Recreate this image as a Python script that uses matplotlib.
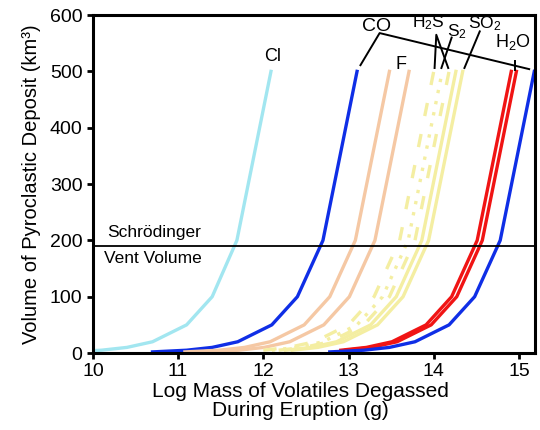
import matplotlib
matplotlib.use("Agg")
import matplotlib.pyplot as plt

plt.rcParams['font.family'] = ['Liberation Sans', 'DejaVu Sans']
plt.rcParams['mathtext.fontset'] = 'custom'
plt.rcParams['mathtext.rm'] = 'Liberation Sans'
plt.rcParams['mathtext.default'] = 'rm'

# volume levels (km^3) at which each curve is sampled
vol_from2 = [2, 5, 10, 20, 50, 100, 200, 500]
vol_from5 = [5, 10, 20, 50, 100, 200, 500]

# log mass of volatiles (g)
cl_x = [9.70, 10.10, 10.40, 10.70, 11.10, 11.40, 11.69, 12.09]
co_a_x = [10.70, 11.10, 11.40, 11.70, 12.10, 12.40, 12.70, 13.10]
f_a_x = [11.08, 11.48, 11.78, 12.08, 12.48, 12.78, 13.08, 13.48]
f_b_x = [11.31, 11.71, 12.01, 12.31, 12.71, 13.01, 13.31, 13.71]
h2s_a_x = [12.00, 12.30, 12.60, 13.00, 13.30, 13.60, 14.00]
h2s_b_x = [12.10, 12.40, 12.70, 13.10, 13.40, 13.70, 14.10]
h2s_c_x = [12.18, 12.48, 12.78, 13.18, 13.48, 13.78, 14.18]
s_a_x = [12.26, 12.56, 12.86, 13.26, 13.56, 13.86, 14.26]
s_b_x = [12.34, 12.64, 12.94, 13.34, 13.64, 13.94, 14.34]
h2o_a_x = [12.91, 13.21, 13.51, 13.91, 14.21, 14.51, 14.91]
h2o_b_x = [12.97, 13.27, 13.57, 13.97, 14.27, 14.57, 14.97]
co_b_x = [12.78, 13.18, 13.48, 13.78, 14.18, 14.48, 14.78, 15.18]

vent_volume = 190

c_cl = '#a2e6f0'
c_blue = '#0f2ee6'
c_peach = '#f5c8a4'
c_yellow = '#f4eea2'
c_red = '#f01414'

fig = plt.figure(figsize=(5.4, 4.3), dpi=100)
ax = fig.add_axes([0.172, 0.179, 0.819, 0.786])

lw = 2.4
ax.plot(cl_x, vol_from2, color=c_cl, lw=lw)
ax.plot(co_a_x, vol_from2, color=c_blue, lw=lw)
ax.plot(f_a_x, vol_from2, color=c_peach, lw=lw)
ax.plot(f_b_x, vol_from2, color=c_peach, lw=lw)
ax.plot(h2s_a_x, vol_from5, color=c_yellow, lw=lw, dashes=(4, 5.5))
ax.plot(h2s_b_x, vol_from5, color=c_yellow, lw=lw, dashes=(1, 2.4))
ax.plot(h2s_c_x, vol_from5, color=c_yellow, lw=lw, dashes=(4, 5.5))
ax.plot(s_a_x, vol_from5, color=c_yellow, lw=lw)
ax.plot(s_b_x, vol_from5, color=c_yellow, lw=lw)
ax.plot(h2o_a_x, vol_from5, color=c_red, lw=lw)
ax.plot(h2o_b_x, vol_from5, color=c_red, lw=lw)
ax.plot(co_b_x, vol_from2, color=c_blue, lw=lw)

ax.axhline(vent_volume, color='black', lw=1.3)
ax.text(10.17, 200, 'Schrödinger', fontsize=12.5, va='bottom', ha='left')
ax.text(10.13, 182, 'Vent Volume', fontsize=12.5, va='top', ha='left')

# labels with leader lines
k = dict(color='black', lw=1.4)
fs = 13
ax.plot([13.14, 13.365, 15.12], [511, 568, 504], **k)
ax.text(13.33, 580, 'CO', fontsize=14, ha='center', va='center')
ax.text(12.11, 526, 'Cl', fontsize=fs, ha='center', va='center')
ax.text(13.62, 512, 'F', fontsize=fs, ha='center', va='center')
ax.plot([14.01, 14.03, 14.17], [506, 565, 506], **k)
ax.text(13.94, 586, 'H$_2$S', fontsize=12.5, ha='center', va='center')
ax.plot([14.09, 14.21], [506, 560], **k)
ax.text(14.27, 570, 'S$_2$', fontsize=12.5, ha='center', va='center')
ax.plot([14.36, 14.54], [506, 571], **k)
ax.text(14.60, 585, 'SO$_2$', fontsize=12.5, ha='center', va='center')
ax.plot([14.95, 14.95], [502, 518], **k)
ax.text(14.93, 553, 'H$_2$O', fontsize=fs, ha='center', va='center')

ax.set_xlim(10, 15.19)
ax.set_ylim(0, 600)
ax.set_xticks([10, 11, 12, 13, 14, 15])
ax.set_yticks([0, 100, 200, 300, 400, 500, 600])
ax.tick_params(labelsize=14, width=2, length=4, direction='out')
for s in ax.spines.values():
    s.set_linewidth(2.2)

ax.set_xlabel('Log Mass of Volatiles Degassed\nDuring Eruption (g)', fontsize=15,
              linespacing=1.0)
ax.xaxis.set_label_coords(0.47, -0.085, transform=ax.transAxes)
ax.xaxis.label.set_va('top')
ax.set_ylabel('Volume of Pyroclastic Deposit (km³)', fontsize=14.5, labelpad=6)

fig.savefig('out.png', dpi=100)
